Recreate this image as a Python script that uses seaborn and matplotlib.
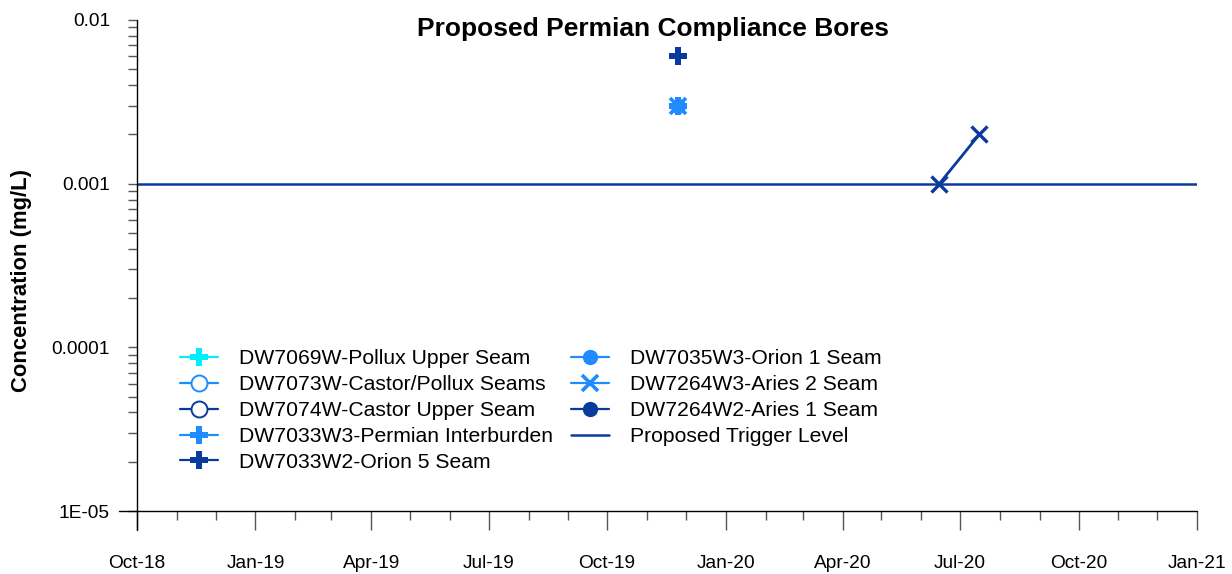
import matplotlib
matplotlib.use("Agg")
import matplotlib.pyplot as plt
import matplotlib.dates as mdates
from matplotlib.lines import Line2D
from matplotlib.ticker import LogLocator, NullFormatter, FixedLocator, FixedFormatter
import pandas as pd
import seaborn as sns

# ---- data -------------------------------------------------------------
series_names = [
    "DW7069W-Pollux Upper Seam",
    "DW7073W-Castor/Pollux Seams",
    "DW7074W-Castor Upper Seam",
    "DW7033W3-Permian Interburden",
    "DW7033W2-Orion 5 Seam",
    "DW7035W3-Orion 1 Seam",
    "DW7264W3-Aries 2 Seam",
    "DW7264W2-Aries 1 Seam",
]

dw7069w_dates, dw7069w_vals = [], []
dw7073w_dates, dw7073w_vals = [], []
dw7074w_dates, dw7074w_vals = [], []
dw7033w3_dates, dw7033w3_vals = ["2019-11-25"], [0.003]
dw7033w2_dates, dw7033w2_vals = ["2019-11-25"], [0.006]
dw7035w3_dates, dw7035w3_vals = ["2019-11-25"], [0.003]
dw7264w3_dates, dw7264w3_vals = ["2019-11-25"], [0.003]
dw7264w2_dates, dw7264w2_vals = [], []
aries_dates, aries_vals = ["2020-06-15", "2020-07-16"], [0.001, 0.002]

trigger_label = "Proposed Trigger Level"
trigger_level = 0.001

x_tick_labels = ["Oct-18", "Jan-19", "Apr-19", "Jul-19", "Oct-19",
                 "Jan-20", "Apr-20", "Jul-20", "Oct-20", "Jan-21"]
y_tick_values = [1e-5, 1e-4, 1e-3, 1e-2]
y_tick_labels = ["1E-05", "0.0001", "0.001", "0.01"]

# ---- styling ----------------------------------------------------------
CYAN = "#00EEFF"
LIGHT = "#1E8CFF"
DARK = "#0A3A9C"

styles = {
    "DW7069W-Pollux Upper Seam": dict(color=CYAN, marker="P", ms=13, mew=0),
    "DW7073W-Castor/Pollux Seams": dict(color=LIGHT, marker="o", ms=11.5, mfc="white", mew=1.4),
    "DW7074W-Castor Upper Seam": dict(color=DARK, marker="o", ms=11.5, mfc="white", mew=1.4),
    "DW7033W3-Permian Interburden": dict(color=LIGHT, marker="P", ms=13, mew=0),
    "DW7033W2-Orion 5 Seam": dict(color=DARK, marker="P", ms=13, mew=0),
    "DW7035W3-Orion 1 Seam": dict(color=LIGHT, marker="o", ms=11, mew=0),
    "DW7264W3-Aries 2 Seam": dict(color=LIGHT, marker="x", ms=11, mew=2.6),
    "DW7264W2-Aries 1 Seam": dict(color=DARK, marker="o", ms=11, mew=0),
}

series_data = {
    "DW7069W-Pollux Upper Seam": (dw7069w_dates, dw7069w_vals),
    "DW7073W-Castor/Pollux Seams": (dw7073w_dates, dw7073w_vals),
    "DW7074W-Castor Upper Seam": (dw7074w_dates, dw7074w_vals),
    "DW7033W3-Permian Interburden": (dw7033w3_dates, dw7033w3_vals),
    "DW7033W2-Orion 5 Seam": (dw7033w2_dates, dw7033w2_vals),
    "DW7035W3-Orion 1 Seam": (dw7035w3_dates, dw7035w3_vals),
    "DW7264W3-Aries 2 Seam": (dw7264w3_dates, dw7264w3_vals),
    "DW7264W2-Aries 1 Seam": (dw7264w2_dates, dw7264w2_vals),
}

sns.set_theme(style="white")
plt.rcParams["font.family"] = ["Liberation Sans", "DejaVu Sans"]
plt.rcParams["text.color"] = "black"
plt.rcParams["axes.labelcolor"] = "black"

fig = plt.figure(figsize=(12.32, 5.74), dpi=100)
ax = fig.add_axes([137 / 1232, 1 - 511 / 574, 1060 / 1232, 491 / 574])

# ---- marks ------------------------------------------------------------
draw_order = ["DW7033W3-Permian Interburden", "DW7035W3-Orion 1 Seam",
              "DW7264W3-Aries 2 Seam", "DW7033W2-Orion 5 Seam"]
for name in draw_order:
    dates, vals = series_data[name]
    df = pd.DataFrame({"date": pd.to_datetime(dates), "value": vals})
    st = styles[name]
    sns.lineplot(data=df, x="date", y="value", ax=ax, color=st["color"],
                 marker=st["marker"], markersize=st["ms"],
                 markeredgewidth=st["mew"], markeredgecolor=st["color"],
                 linewidth=1.6, legend=False, zorder=4)

aries_df = pd.DataFrame({"date": pd.to_datetime(aries_dates), "value": aries_vals})
sns.lineplot(data=aries_df, x="date", y="value", ax=ax, color=DARK,
             marker="x", markersize=12, markeredgewidth=2.4,
             markeredgecolor=DARK, linewidth=2.0, legend=False, zorder=4)

ax.axhline(trigger_level, color=DARK, linewidth=1.8, zorder=3)

# ---- axes -------------------------------------------------------------
ax.set_yscale("log")
ax.set_ylim(1e-5, 1e-2)
ax.set_xlim(pd.Timestamp("2018-10-01"), pd.Timestamp("2021-01-01"))

ax.yaxis.set_major_locator(FixedLocator(y_tick_values))
ax.yaxis.set_major_formatter(FixedFormatter(y_tick_labels))
ax.yaxis.set_minor_locator(LogLocator(base=10, subs=range(2, 10)))
ax.yaxis.set_minor_formatter(NullFormatter())

ax.xaxis.set_major_locator(mdates.MonthLocator(bymonth=[1, 4, 7, 10]))
ax.xaxis.set_minor_locator(mdates.MonthLocator())
ax.set_xticks(ax.get_xticks())
ax.set_xticklabels(x_tick_labels)

tick_color = "#555555"
ax.tick_params(axis="y", which="both", direction="out", left=True, length=6.5,
               width=1, color=tick_color, labelsize=13.8, pad=13, labelcolor="black")
ax.tick_params(axis="x", which="major", direction="out", bottom=True, length=13.5,
               width=1, color=tick_color, labelsize=13.8, pad=18.5, labelcolor="black")
ax.tick_params(axis="x", which="minor", direction="out", bottom=True, length=6.5,
               width=1, color=tick_color)

for side in ["top", "right", "left", "bottom"]:
    ax.spines[side].set_visible(False)
# crossed axis lines extending past the plot corner
ax.plot([-18 / 1060, 1], [0, 0], transform=ax.transAxes, color="black",
        linewidth=1.0, clip_on=False, zorder=5)
ax.plot([0, 0], [-19 / 491, 1], transform=ax.transAxes, color="black",
        linewidth=1.0, clip_on=False, zorder=5)

ax.set_xlabel("")
ax.set_ylabel("Concentration (mg/L)", fontsize=15.8, fontweight="bold")
ax.yaxis.set_label_coords(-105 / 1060, (511 - 280) / 491)
ax.grid(False)

ax.text(0.487, 0.967, "Proposed Permian Compliance Bores", transform=ax.transAxes,
        ha="center", va="baseline", fontsize=19, fontweight="bold")

# ---- legend -----------------------------------------------------------
handles = []
for name in series_names:
    st = styles[name]
    handles.append(Line2D([], [], color=st["color"], linewidth=1.6,
                          marker=st["marker"], markersize=st["ms"],
                          markerfacecolor=st.get("mfc", st["color"]),
                          markeredgecolor=st["color"], markeredgewidth=st["mew"]))
handles.append(Line2D([], [], color=DARK, linewidth=1.8))
labels = series_names + [trigger_label]

ax.legend(handles, labels, ncol=2, loc="upper left",
          bbox_to_anchor=(43 / 1060, (511 - 349) / 491), frameon=False,
          fontsize=15.2, handlelength=1.8, handletextpad=1.0,
          columnspacing=0.85, labelspacing=0.33, borderpad=0, borderaxespad=0)

fig.savefig("out.png", dpi=100)
